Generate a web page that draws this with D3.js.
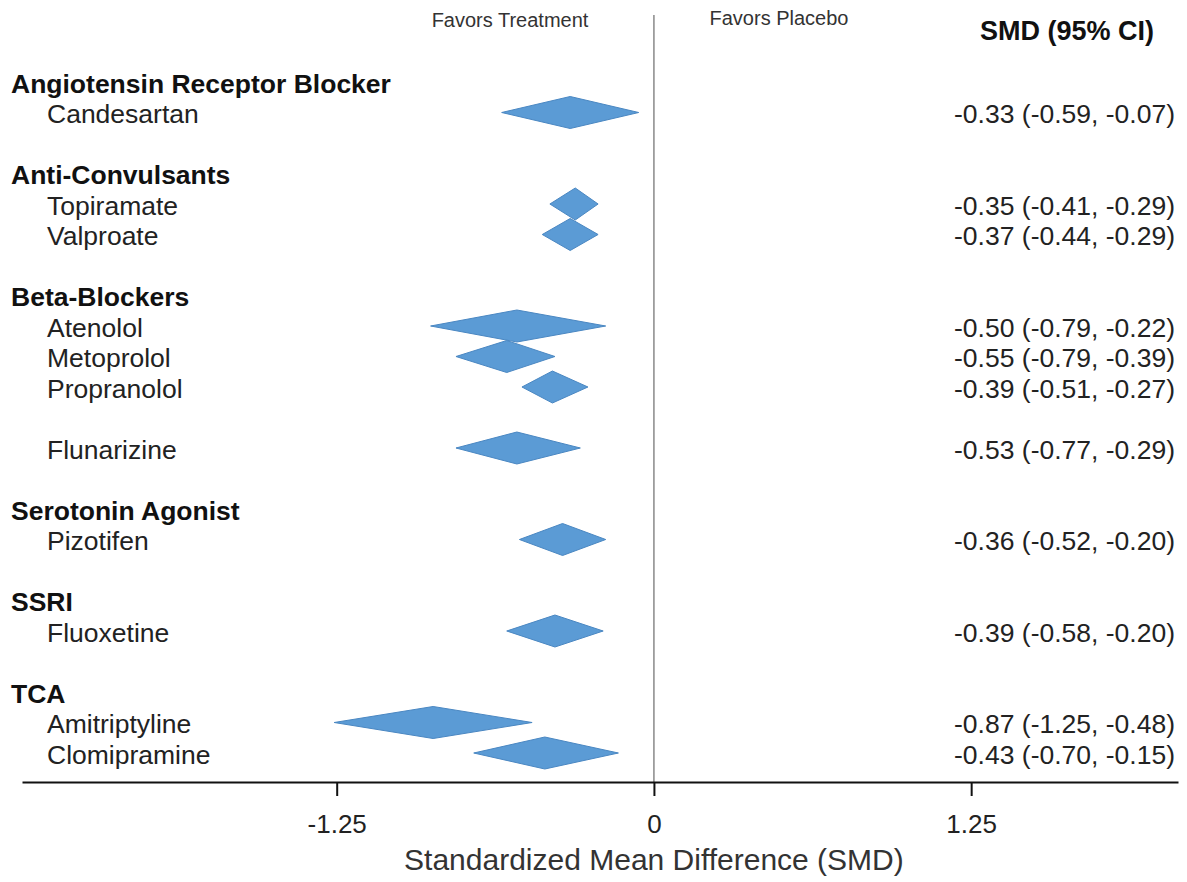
<!DOCTYPE html>
<html>
<head>
<meta charset="utf-8">
<script src="https://cdn.jsdelivr.net/npm/d3@7"></script>
<style>
  body { margin: 0; background: #fff; }
  svg { display: block; font-family: "Liberation Sans", Arial, sans-serif; }
</style>
</head>
<body>
<svg id="chart" width="1187" height="882"></svg>
<script>
// drug classes and their row slot
const groups = ["Angiotensin Receptor Blocker", "Anti-Convulsants", "Beta-Blockers", "Serotonin Agonist", "SSRI", "TCA"]
const groupSlots = [0, 3, 7, 14, 17, 20]

// drugs, row slot, printed SMD (95% CI)
const drugs = ["Candesartan", "Topiramate", "Valproate", "Atenolol", "Metoprolol", "Propranolol", "Flunarizine", "Pizotifen", "Fluoxetine", "Amitriptyline", "Clomipramine"]
const drugSlots = [1, 4, 5, 8, 9, 10, 12, 15, 18, 21, 22]
const smd    = [-0.33, -0.35, -0.37, -0.50, -0.55, -0.39, -0.53, -0.36, -0.39, -0.87, -0.43]
const ciLow  = [-0.59, -0.41, -0.44, -0.79, -0.79, -0.51, -0.77, -0.52, -0.58, -1.25, -0.70]
const ciHigh = [-0.07, -0.29, -0.29, -0.22, -0.39, -0.27, -0.29, -0.20, -0.20, -0.48, -0.15]

// diamonds as they are drawn in the figure (left tip, middle, right tip)
const diaLeft  = [-0.60, -0.41, -0.44, -0.88, -0.78, -0.52, -0.78, -0.53, -0.58, -1.26, -0.71]
const diaMid   = [-0.33, -0.31, -0.33, -0.54, -0.58, -0.40, -0.54, -0.36, -0.39, -0.87, -0.43]
const diaRight = [-0.06, -0.22, -0.22, -0.19, -0.39, -0.26, -0.29, -0.19, -0.20, -0.48, -0.14]

const tickVals = [-1.25, 0, 1.25]
const tickText = ["-1.25", "0", "1.25"]

svg = d3.select("#chart")

x = d3.scaleLinear()
    .domain([-2.49, 2.065])
    .range([22, 1178])

y = d3.scaleLinear()
    .domain([0, 22])
    .range([83, 754])

axisY = 782
// hyphen, not unicode minus, like the figure
f2 = v => v.toFixed(2)

// zero line
svg.append("line")
    .attr("x1", x(0)).attr("x2", x(0))
    .attr("y1", 15).attr("y2", axisY)
    .attr("stroke", "#777")
    .attr("stroke-width", 1.3)

// favours labels + header
svg.append("text")
    .attr("x", 510).attr("y", 27)
    .attr("text-anchor", "middle")
    .attr("font-size", 20).attr("fill", "#333")
    .text("Favors Treatment")
svg.append("text")
    .attr("x", 779).attr("y", 25)
    .attr("text-anchor", "middle")
    .attr("font-size", 20).attr("fill", "#333")
    .text("Favors Placebo")
svg.append("text")
    .attr("x", 1067).attr("y", 40)
    .attr("text-anchor", "middle")
    .attr("font-size", 27).attr("font-weight", "bold").attr("fill", "#111")
    .text("SMD (95% CI)")

// class headers
svg.selectAll(".grp")
    .data(groups)
    .enter().append("text")
    .attr("class", "grp")
    .attr("x", 11)
    .attr("y", (d, i) => y(groupSlots[i]))
    .attr("dy", "0.36em")
    .attr("font-size", 26.5).attr("font-weight", "bold").attr("fill", "#111")
    .text(d => d)

// drug names
svg.selectAll(".drug")
    .data(drugs)
    .enter().append("text")
    .attr("class", "drug")
    .attr("x", 47)
    .attr("y", (d, i) => y(drugSlots[i]))
    .attr("dy", "0.36em")
    .attr("font-size", 26.5).attr("fill", "#222")
    .text(d => d)

// diamonds
diamond = i => {
    cy = y(drugSlots[i]) - 1
    h = 16
    return `M${x(diaLeft[i])},${cy} L${x(diaMid[i])},${cy - h} L${x(diaRight[i])},${cy} L${x(diaMid[i])},${cy + h} Z`
}
svg.selectAll(".dia")
    .data(drugs)
    .enter().append("path")
    .attr("class", "dia")
    .attr("d", (d, i) => diamond(i))
    .attr("fill", "#5b9bd5")
    .attr("stroke", "#4a87c2")
    .attr("stroke-width", 1)

// SMD (95% CI) column
svg.selectAll(".ci")
    .data(drugs)
    .enter().append("text")
    .attr("class", "ci")
    .attr("x", 1175)
    .attr("y", (d, i) => y(drugSlots[i]))
    .attr("dy", "0.36em")
    .attr("text-anchor", "end")
    .attr("font-size", 26.5).attr("fill", "#222")
    .text((d, i) => `${f2(smd[i])} (${f2(ciLow[i])}, ${f2(ciHigh[i])})`)

// x axis
gx = svg.append("g")
    .attr("transform", `translate(0,${axisY})`)
    .call(d3.axisBottom(x)
        .tickValues(tickVals)
        .tickFormat((d, i) => tickText[i])
        .tickSizeOuter(0)
        .tickSizeInner(14)
        .tickPadding(19))
gx.select(".domain").attr("stroke", "#111").attr("stroke-width", 2.2)
gx.selectAll(".tick line").attr("stroke", "#111").attr("stroke-width", 2)
gx.selectAll(".tick text")
    .attr("font-size", 26).attr("fill", "#222")
    .attr("font-family", "Liberation Sans, Arial, sans-serif")

svg.append("text")
    .attr("x", x(0)).attr("y", 870)
    .attr("text-anchor", "middle")
    .attr("font-size", 30).attr("fill", "#333")
    .text("Standardized Mean Difference (SMD)")
</script>
</body>
</html>
